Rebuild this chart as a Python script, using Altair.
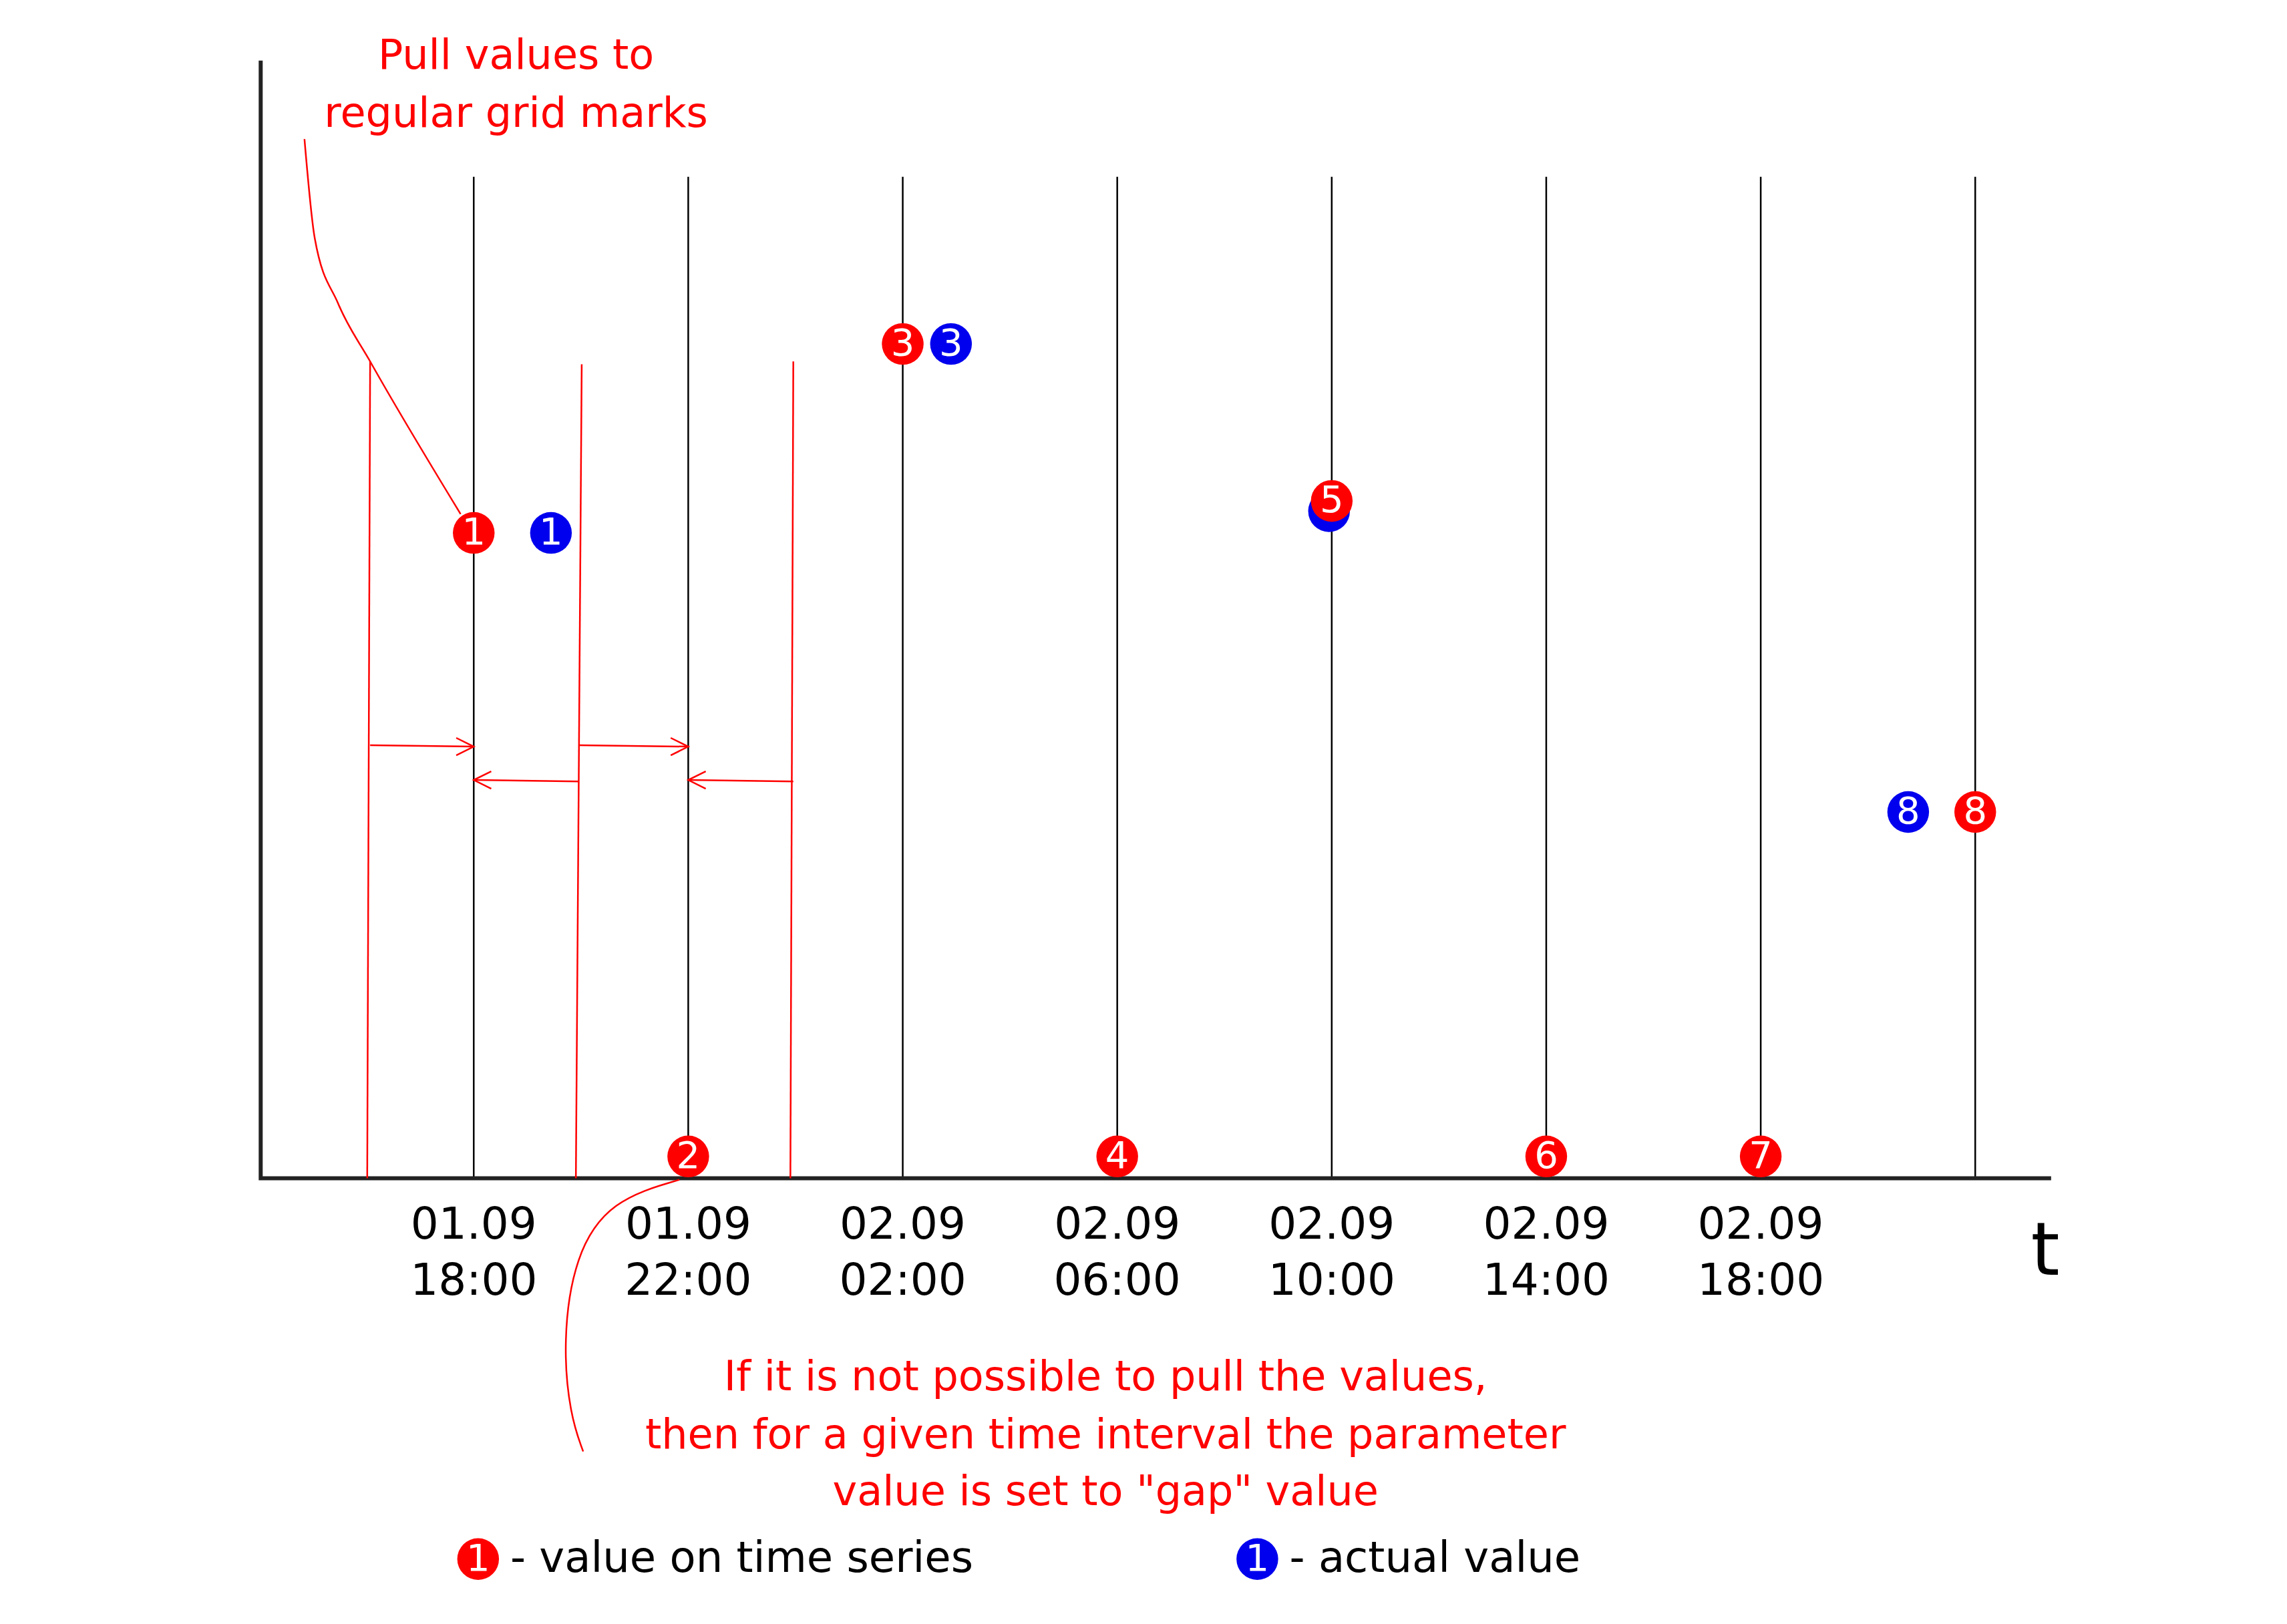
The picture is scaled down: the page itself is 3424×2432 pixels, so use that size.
import pandas as pd
import altair as alt

# hours after 01.09 18:00 and value levels (arbitrary units)
grid_hours = [0, 4, 8, 12, 16, 20, 24, 28]
tick_day = ["01.09", "01.09", "02.09", "02.09", "02.09", "02.09", "02.09", ""]
tick_time = ["18:00", "22:00", "02:00", "06:00", "10:00", "14:00", "18:00", ""]

series_label = ["1", "2", "3", "4", "5", "6", "7", "8"]
series_hour = [0, 4, 8, 12, 16, 20, 24, 28]
series_value = [444, 15, 574, 15, 466, 15, 15, 252]

actual_label = ["1", "3", "", "8"]
actual_hour = [1.44, 8.9, 15.95, 26.75]
actual_value = [444, 574, 459, 252]

RED = "#ff0000"
BLUE = "#0000ee"
FONT = "DejaVu Sans"
PX_H = 36.75  # display px per hour


def hx(px):
    return (px - 321) / PX_H


def vy(py):
    return 807 - py


X = alt.X("x:Q", scale=alt.Scale(domain=[hx(0), hx(1560)], nice=False, zero=False), axis=None)
Y = alt.Y("y:Q", scale=alt.Scale(domain=[vy(1110), vy(0)], nice=False, zero=False), axis=None)


def segs(rows):
    out = []
    for i, pts in enumerate(rows):
        for j, (px, py) in enumerate(pts):
            out.append({"g": i, "o": j, "x": hx(px), "y": vy(py)})
    return pd.DataFrame(out)


def lines(df, color, width, interp="linear"):
    return alt.Chart(df).mark_line(color=color, strokeWidth=width, interpolate=interp).encode(
        x=X, y=Y, detail="g:N", order="o:Q")


# axes and grid
axes = lines(segs([[(175, 38), (175, 807), (1402, 807)]]), "#222222", 6)
grid_df = pd.DataFrame({"x": grid_hours, "y": [0] * 8, "y2": [vy(118)] * 8})
grid = alt.Chart(grid_df).mark_rule(color="black", strokeWidth=2.5).encode(x=X, y=Y, y2="y2:Q")

ticks_df = pd.DataFrame({"x": grid_hours, "d": tick_day, "t": tick_time})
day_txt = alt.Chart(ticks_df).mark_text(font=FONT, fontSize=66, baseline="middle").encode(
    x=X, y=alt.value(839 * 2.177), text="d:N")
time_txt = alt.Chart(ticks_df).mark_text(font=FONT, fontSize=66, baseline="middle").encode(
    x=X, y=alt.value(878 * 2.177), text="t:N")
t_txt = alt.Chart(pd.DataFrame({"x": [hx(1398)], "y": [vy(858)], "s": ["t"]})).mark_text(
    font=FONT, fontSize=110, baseline="middle").encode(x=X, y=Y, text="s:N")

# red annotation geometry
brackets = lines(segs([
    [(250, 245), (248, 807)], [(395, 247), (391, 807)], [(540, 245), (538, 807)],
    [(250, 509), (321, 510)], [(309, 504), (321, 510), (309, 516)],
    [(393, 534), (321, 533)], [(333, 527), (321, 533), (333, 539)],
    [(393, 509), (468, 510)], [(456, 504), (468, 510), (456, 516)],
    [(540, 534), (468, 533)], [(480, 527), (468, 533), (480, 539)],
]), RED, 2.5)
curve_top = lines(segs([[(205, 92), (212, 160), (228, 205), (250, 245), (312, 350)]]), RED, 2.5, "monotone")
curve_bot = lines(segs([[(462, 808), (415, 822), (390, 860), (382, 920), (387, 970), (396, 995)]]), RED, 2.5, "basis")

notes = pd.DataFrame({
    "x": [hx(350), hx(350), hx(754), hx(754), hx(754)],
    "y": [vy(35), vy(75), vy(944), vy(984), vy(1023)],
    "s": ["Pull values to", "regular grid marks",
          "If it is not possible to pull the values,",
          "then for a given time interval the parameter",
          'value is set to "gap" value'],
})
note_txt = alt.Chart(notes).mark_text(font=FONT, fontSize=62, color=RED, baseline="middle").encode(
    x=X, y=Y, text="s:N")

# points
act_df = pd.DataFrame({"x": actual_hour, "y": actual_value, "s": actual_label})
ser_df = pd.DataFrame({"x": series_hour, "y": series_value, "s": series_label})


def dots(df, color):
    c = alt.Chart(df).mark_circle(color=color, opacity=1, size=3900).encode(x=X, y=Y)
    t = alt.Chart(df).mark_text(font=FONT, fontSize=56, color="white", baseline="middle").encode(
        x=X, y=Y, text="s:N")
    return c + t


# legend
leg_dot = pd.DataFrame({"x": [hx(324)], "y": [vy(1069)], "s": ["1"]})
leg_dot2 = pd.DataFrame({"x": [hx(858)], "y": [vy(1069)], "s": ["1"]})
leg_txt = alt.Chart(pd.DataFrame({
    "x": [hx(346), hx(880)], "y": [vy(1069), vy(1069)],
    "s": ["- value on time series", "- actual value"],
})).mark_text(font=FONT, fontSize=64, align="left", baseline="middle").encode(x=X, y=Y, text="s:N")

chart = alt.layer(
    grid, axes, brackets, curve_top, curve_bot, note_txt,
    day_txt, time_txt, t_txt,
    dots(act_df, BLUE), dots(ser_df, RED),
    dots(leg_dot, RED), dots(leg_dot2, BLUE), leg_txt,
).properties(
    width=3408, height=2416, padding=0, autosize=alt.AutoSizeParams(type="none")
).configure_view(stroke=None)

chart.save("out.html", embed_options={"renderer": "svg", "actions": False})
